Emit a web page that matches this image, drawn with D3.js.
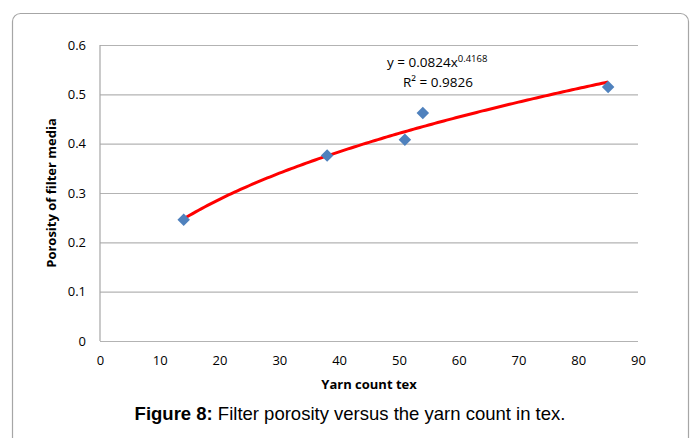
<!DOCTYPE html>
<html>
<head>
<meta charset="utf-8">
<script src="https://cdn.jsdelivr.net/npm/d3@7"></script>
<style>
  body { margin: 0; background: #fff; }
  text { font-family: "Open Sans", "Liberation Sans", sans-serif; fill: #000; }
</style>
</head>
<body>
<svg id="chart"></svg>
<script>
// data
let yarnCount = [14, 38, 51, 54, 85];
let porosity = [0.246, 0.376, 0.408, 0.462, 0.515];
let xTicks = [0, 10, 20, 30, 40, 50, 60, 70, 80, 90];
let yTicks = [0, 0.1, 0.2, 0.3, 0.4, 0.5, 0.6];
// power trendline shown on the chart: y = a * x^b
let trendA = 0.0824;
let trendB = 0.4168;

let width = 694;
let height = 438;
let margin = { top: 45, right: 56, bottom: 97, left: 100 };

let svg = d3.select('#chart')
  .attr('width', width)
  .attr('height', height);

//======= outer frame =======//
svg.append('rect')
  .attr('x', 12.5)
  .attr('y', 13.5)
  .attr('width', 676)
  .attr('height', 440)
  .attr('rx', 8)
  .attr('fill', 'none')
  .attr('stroke', '#a6a6a6')
  .attr('stroke-width', 1.2);

let x = d3.scaleLinear()
  .domain([0, 90])
  .range([margin.left, width - margin.right]);

let y = d3.scaleLinear()
  .domain([0, 0.6])
  .range([height - margin.bottom, margin.top]);

//======= grid =======//
svg.append('g')
  .attr('transform', 'translate(' + margin.left + ',0)')
  .call(d3.axisRight(y).tickValues(yTicks).tickSize(x(90) - x(0)).tickFormat(''))
  .call(g => g.select('.domain').remove())
  .call(g => g.selectAll('line').attr('stroke', '#b3b3b3').attr('stroke-width', 1.2));

// left axis line
svg.append('line')
  .attr('x1', x(0)).attr('x2', x(0))
  .attr('y1', y(0.6)).attr('y2', y(0))
  .attr('stroke', '#a6a6a6').attr('stroke-width', 1.2);

//======= axes labels =======//
let yAxis = svg.append('g')
  .attr('transform', 'translate(' + (margin.left - 10) + ',0)')
  .call(d3.axisLeft(y).tickValues(yTicks).tickSize(0).tickPadding(4)
    .tickFormat(d => d === 0 ? '0' : d3.format('.1f')(d)));
yAxis.select('.domain').remove();
yAxis.selectAll('text')
  .style('font-family', '"Open Sans", sans-serif')
  .style('font-size', '13px')
  .attr('fill', '#000');

let xAxis = svg.append('g')
  .attr('transform', 'translate(0,' + (y(0) + 11) + ')')
  .call(d3.axisBottom(x).tickValues(xTicks).tickSize(0).tickPadding(4));
xAxis.select('.domain').remove();
xAxis.selectAll('text')
  .style('font-family', '"Open Sans", sans-serif')
  .style('font-size', '13px')
  .attr('fill', '#000');

svg.append('text')
  .attr('x', (x(0) + x(90)) / 2)
  .attr('y', 389)
  .attr('text-anchor', 'middle')
  .style('font-size', '13px')
  .style('font-weight', 'bold')
  .text('Yarn count tex');

svg.append('text')
  .attr('transform', 'translate(56,' + ((y(0) + y(0.6)) / 2) + ') rotate(-90)')
  .attr('text-anchor', 'middle')
  .style('font-size', '13px')
  .style('font-weight', 'bold')
  .text('Porosity of filter media');

//======= trendline =======//
let trendX = d3.range(d3.min(yarnCount), d3.max(yarnCount) + 0.5, 0.5);
svg.append('path')
  .datum(trendX)
  .attr('fill', 'none')
  .attr('stroke', '#ff0000')
  .attr('stroke-width', 3)
  .attr('d', d3.line()
    .x(d => x(d))
    .y(d => y(trendA * Math.pow(d, trendB))));

//======= points =======//
svg.append('g')
  .selectAll('path')
  .data(yarnCount)
  .enter()
  .append('path')
  .attr('d', d3.symbol().type(d3.symbolDiamond2).size(100))
  .attr('transform', (d, i) => 'translate(' + x(d) + ',' + y(porosity[i]) + ')')
  .attr('fill', '#4f81bd');

//======= equation =======//
let eq = svg.append('text')
  .attr('x', 387)
  .attr('y', 67)
  .style('font-size', '13.5px');
eq.append('tspan').text('y = ' + trendA + 'x');
eq.append('tspan')
  .attr('dy', -5)
  .style('font-size', '9.5px')
  .text(trendB);

svg.append('text')
  .attr('x', 403)
  .attr('y', 87)
  .style('font-size', '13.5px')
  .text('R² = 0.9826');

//======= caption =======//
let cap = svg.append('text')
  .attr('x', 350)
  .attr('y', 420)
  .attr('text-anchor', 'middle')
  .style('font-family', '"Liberation Sans", Arial, sans-serif')
  .style('font-size', '18.5px');
cap.append('tspan').style('font-weight', 'bold').text('Figure 8:');
cap.append('tspan').text(' Filter porosity versus the yarn count in tex.');
</script>
</body>
</html>
